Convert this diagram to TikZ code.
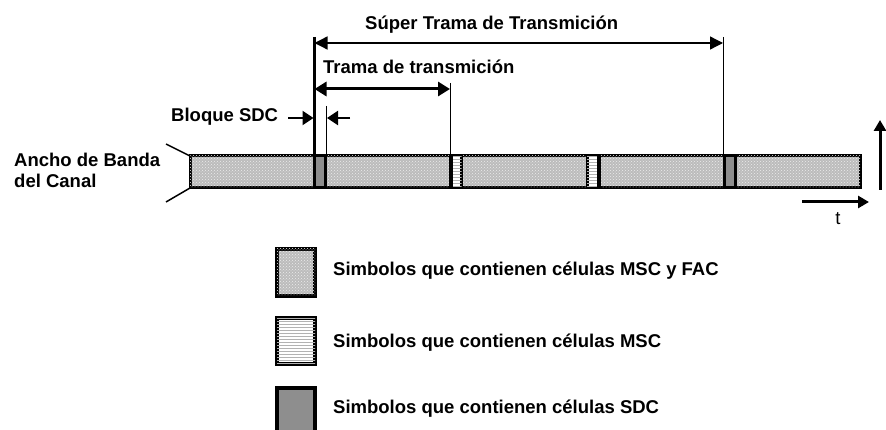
\documentclass[tikz,border=0pt]{standalone}
\usepackage{fontspec}
\setmainfont{Liberation Sans}
\usetikzlibrary{arrows.meta,patterns}
\definecolor{sdcgray}{HTML}{8E8E8E}
\definecolor{fgray}{HTML}{BCBCBC}
\tikzset{
  lbl/.style={font=\bfseries\fontsize{18.5}{20}\selectfont, inner sep=0pt, anchor=base west},
  fac/.style={fill=fgray, postaction={pattern=crosshatch dots, pattern color=white!85!gray}},
  msc/.style={fill=white, postaction={pattern=horizontal lines, pattern color=gray!60}},
  sdc/.style={fill=sdcgray},
  cellbox/.style={draw=black, line width=3pt},
  legbox/.style={draw=black, line width=3.5pt},
  thinarr/.style={line width=1.3pt, {Triangle[length=13pt,width=13pt]}-{Triangle[length=13pt,width=13pt]}},
  thickarr/.style={line width=3pt, {Triangle[length=12pt,width=14pt]}-{Triangle[length=12pt,width=14pt]}},
  blkarr/.style={line width=2pt, -{Triangle[length=11pt,width=14pt]}},
  axarr/.style={line width=3pt, -{Triangle[length=11pt,width=12pt]}},
  guide/.style={line width=1pt},
}
\begin{document}
\begin{tikzpicture}[x=1pt,y=-1pt]
\useasboundingbox (0,0) rectangle (886,430);
\clip (0,0) rectangle (886,430);
% main bar
\draw[fac, cellbox] (190,156) rectangle (860,188);
\draw[sdc, cellbox] (314.5,156) rectangle (325.5,188);
\draw[msc, cellbox] (450.5,156) rectangle (461.5,188);
\draw[msc, cellbox] (587,156) rectangle (599,188);
\draw[sdc, cellbox] (724,156) rectangle (735.5,188);
\draw[line width=4pt] (450.5,156) -- (450.5,188);
\draw[line width=4pt] (599,156) -- (599,188);
% named points
\coordinate (barTL) at (190,156);
\coordinate (barBL) at (190,188);
\coordinate (diagT) at (166,144);
\coordinate (diagB) at (166,202);
\coordinate (sA) at (314.5,37);
\coordinate (sB) at (314.5,156);
\coordinate (eA) at (723,37);
\coordinate (eB) at (723,156);
\coordinate (tA) at (450,83);
\coordinate (tB) at (450,156);
\coordinate (bA) at (326,106);
\coordinate (bB) at (326,156);
\coordinate (supL) at (314.5,43);
\coordinate (supR) at (723,43);
\coordinate (traL) at (314.5,89);
\coordinate (traR) at (450,89);
\coordinate (blk1s) at (288,118);
\coordinate (blk1e) at (313.5,118);
\coordinate (blk2s) at (350,118);
\coordinate (blk2e) at (327,118);
\coordinate (upS) at (880,190);
\coordinate (upE) at (880,120);
\coordinate (rtS) at (802,202);
\coordinate (rtE) at (869,202);
% guides
\draw[line width=1.5pt] (diagT) -- (barTL);
\draw[line width=1.5pt] (diagB) -- (barBL);
\draw[line width=2.5pt] (sA) -- (sB);
\draw[guide] (eA) -- (eB);
\draw[guide] (tA) -- (tB);
\draw[guide] (bA) -- (bB);
% arrows
\draw[thinarr] (supL) -- (supR);
\draw[thickarr] (traL) -- (traR);
\draw[blkarr] (blk1s) -- (blk1e);
\draw[blkarr] (blk2s) -- (blk2e);
\draw[axarr] (upS) -- (upE);
\draw[axarr] (rtS) -- (rtE);
% labels
\node[lbl] (sup) at (365,30) {Súper Trama de Transmición};
\node[lbl] (tra) at (323,74) {Trama de transmición};
\node[lbl] (blq) at (171,122) {Bloque SDC};
\node[lbl] (anc1) at (14,167) {Ancho de Banda};
\node[lbl] (anc2) at (14,188) {del Canal};
\node[font=\fontsize{18.5}{20}\selectfont, inner sep=0pt, anchor=base] (t) at (838,225) {t};
% legend
\draw[fac, legbox] (277,249) rectangle (315,296);
\draw[msc, legbox] (277,318) rectangle (315,364);
\draw[sdc, legbox] (277,388) rectangle (315,440);
\node[lbl] (l1) at (333,276) {Simbolos que contienen células MSC y FAC};
\node[lbl] (l2) at (333,347) {Simbolos que contienen células MSC};
\node[lbl] (l3) at (333,413) {Simbolos que contienen células SDC};
\end{tikzpicture}
\end{document}
